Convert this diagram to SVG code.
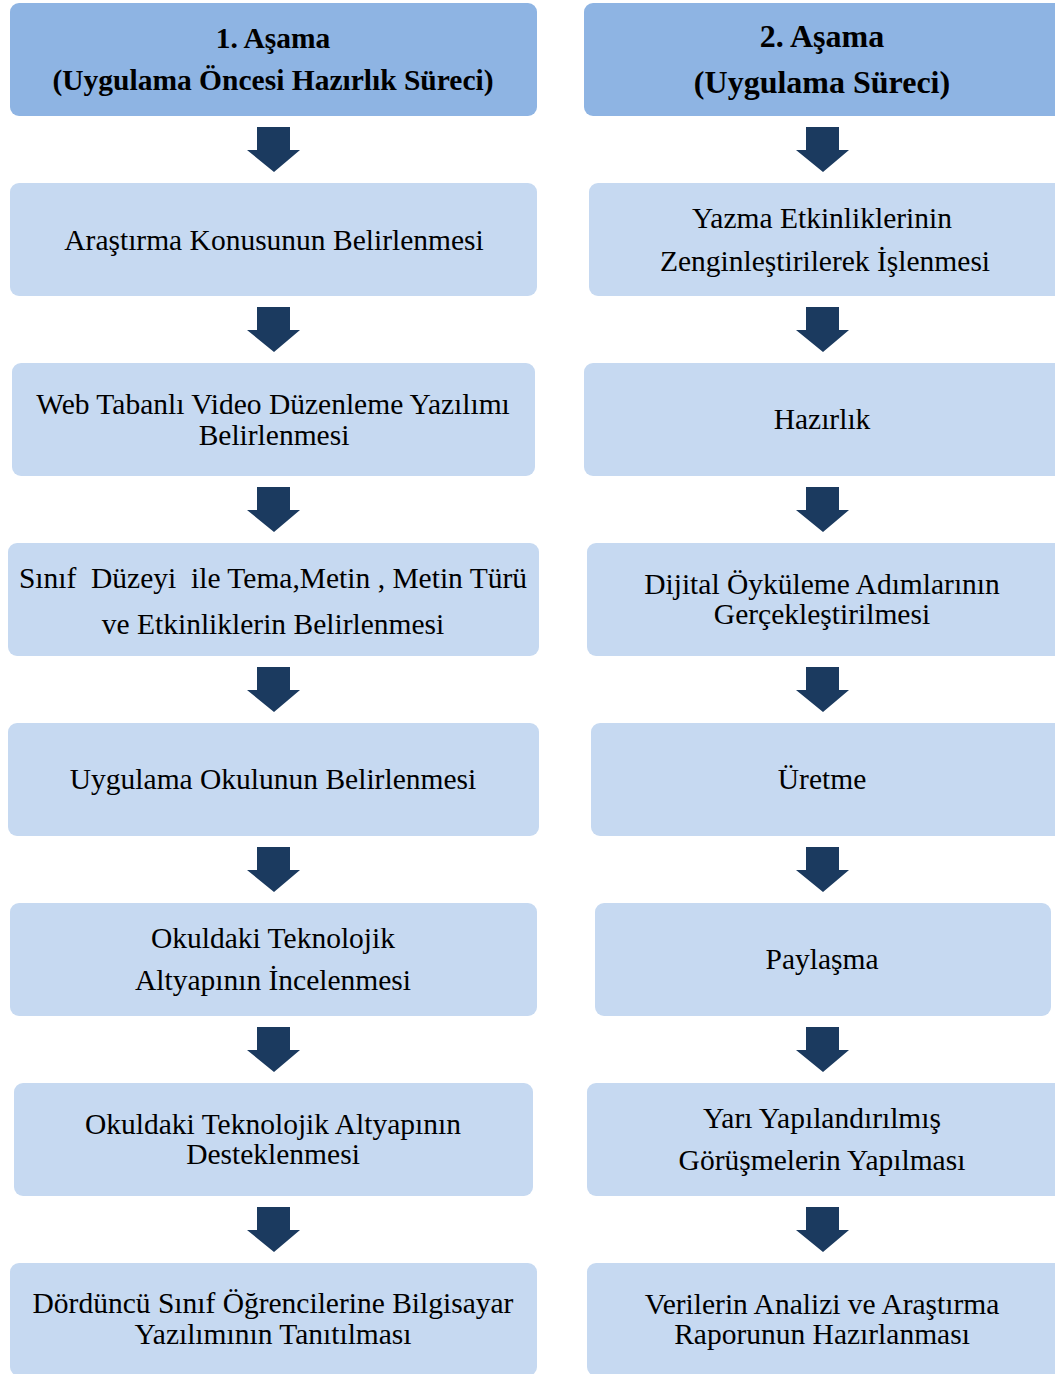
<svg xmlns="http://www.w3.org/2000/svg" width="1055" height="1374" viewBox="0 0 1055 1374">
<defs>
<style>
.hdr{fill:#8eb4e3}
.box{fill:#c6d9f1}
.arr{fill:#1b3a5f}
text{font-family:"Liberation Serif","Times New Roman",serif;font-size:29.5px;fill:#000;text-anchor:middle}
.b{font-weight:bold;font-size:29.5px}
.b2{font-weight:bold;font-size:32px}
</style>
<path id="ar" d="M-17,0 H16 V23 H26 L0,45 L-27,23 H-17 Z"/>
</defs>
<rect width="1055" height="1374" fill="#fff"/>
<g id="connectors">
<use href="#ar" class="arr" x="274" y="127"/>
<use href="#ar" class="arr" x="274" y="307"/>
<use href="#ar" class="arr" x="274" y="487"/>
<use href="#ar" class="arr" x="274" y="667"/>
<use href="#ar" class="arr" x="274" y="847"/>
<use href="#ar" class="arr" x="274" y="1027"/>
<use href="#ar" class="arr" x="274" y="1207"/>
<use href="#ar" class="arr" x="823" y="127"/>
<use href="#ar" class="arr" x="823" y="307"/>
<use href="#ar" class="arr" x="823" y="487"/>
<use href="#ar" class="arr" x="823" y="667"/>
<use href="#ar" class="arr" x="823" y="847"/>
<use href="#ar" class="arr" x="823" y="1027"/>
<use href="#ar" class="arr" x="823" y="1207"/>
</g>
<g id="L0"><rect class="hdr" x="10" y="3" width="527" height="113" rx="9"/><text class="b" x="273" y="48">1. Aşama</text><text class="b" x="273" y="90">(Uygulama Öncesi Hazırlık Süreci)</text></g>
<g id="L1"><rect class="box" x="10" y="183" width="527" height="113" rx="9"/><text x="274" y="250">Araştırma Konusunun Belirlenmesi</text></g>
<g id="L2"><rect class="box" x="12" y="363" width="523" height="113" rx="9"/><text x="273" y="414">Web Tabanlı Video Düzenleme Yazılımı</text><text x="274" y="445">Belirlenmesi</text></g>
<g id="L3"><rect class="box" x="8" y="543" width="531" height="113" rx="9"/><text x="273" y="588" xml:space="preserve">Sınıf  Düzeyi  ile Tema,Metin , Metin Türü</text><text x="273" y="634">ve Etkinliklerin Belirlenmesi</text></g>
<g id="L4"><rect class="box" x="8" y="723" width="531" height="113" rx="9"/><text x="273" y="789">Uygulama Okulunun Belirlenmesi</text></g>
<g id="L5"><rect class="box" x="10" y="903" width="527" height="113" rx="9"/><text x="273" y="948">Okuldaki Teknolojik</text><text x="273" y="990">Altyapının İncelenmesi</text></g>
<g id="L6"><rect class="box" x="14" y="1083" width="519" height="113" rx="9"/><text x="273" y="1134">Okuldaki Teknolojik Altyapının</text><text x="273" y="1164">Desteklenmesi</text></g>
<g id="L7"><rect class="box" x="10" y="1263" width="527" height="113" rx="9"/><text x="273" y="1313">Dördüncü Sınıf Öğrencilerine Bilgisayar</text><text x="273" y="1344">Yazılımının Tanıtılması</text></g>
<g id="R0"><rect class="hdr" x="584" y="3" width="480" height="113" rx="9"/><text class="b2" x="822" y="47">2. Aşama</text><text class="b2" x="822" y="93">(Uygulama Süreci)</text></g>
<g id="R1"><rect class="box" x="589" y="183" width="475" height="113" rx="9"/><text x="822" y="228">Yazma Etkinliklerinin</text><text x="825" y="271">Zenginleştirilerek İşlenmesi</text></g>
<g id="R2"><rect class="box" x="584" y="363" width="480" height="113" rx="9"/><text x="822" y="429">Hazırlık</text></g>
<g id="R3"><rect class="box" x="587" y="543" width="477" height="113" rx="9"/><text x="822" y="594">Dijital Öyküleme Adımlarının</text><text x="822" y="624">Gerçekleştirilmesi</text></g>
<g id="R4"><rect class="box" x="591" y="723" width="473" height="113" rx="9"/><text x="822" y="789">Üretme</text></g>
<g id="R5"><rect class="box" x="595" y="903" width="456" height="113" rx="9"/><text x="822" y="969">Paylaşma</text></g>
<g id="R6"><rect class="box" x="587" y="1083" width="477" height="113" rx="9"/><text x="822" y="1128">Yarı Yapılandırılmış</text><text x="822" y="1170">Görüşmelerin Yapılması</text></g>
<g id="R7"><rect class="box" x="587" y="1263" width="477" height="113" rx="9"/><text x="822" y="1314">Verilerin Analizi ve Araştırma</text><text x="822" y="1344">Raporunun Hazırlanması</text></g>
</svg>
